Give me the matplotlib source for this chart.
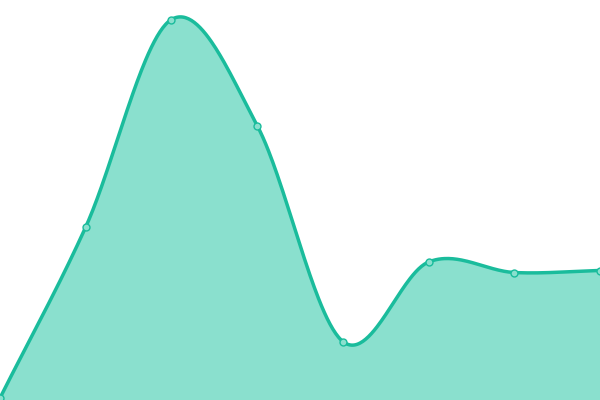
import numpy as np
import matplotlib
matplotlib.use("Agg")
import matplotlib.pyplot as plt

# data (value scale 0..400)
xs = [0, 1, 2, 3, 4, 5, 6, 7]
values = [2, 173, 380.5, 274.5, 58.5, 138, 127.5, 129.5]

line_color = "#1abc9c"
fill_color = "#8ae0ce"


def catmull_rom(x, y, n=60):
    x = np.asarray(x, float)
    y = np.asarray(y, float)
    px = np.concatenate([[2 * x[0] - x[1]], x, [2 * x[-1] - x[-2]]])
    py = np.concatenate([[2 * y[0] - y[1]], y, [2 * y[-1] - y[-2]]])
    ox, oy = [], []
    for i in range(1, len(px) - 2):
        t = np.linspace(0, 1, n, endpoint=(i == len(px) - 3))
        p0, p1 = np.array([px[i], py[i]]), np.array([px[i + 1], py[i + 1]])
        m0 = (np.array([px[i + 1], py[i + 1]]) - np.array([px[i - 1], py[i - 1]])) / 2
        m1 = (np.array([px[i + 2], py[i + 2]]) - np.array([px[i], py[i]])) / 2
        h00 = 2 * t**3 - 3 * t**2 + 1
        h10 = t**3 - 2 * t**2 + t
        h01 = -2 * t**3 + 3 * t**2
        h11 = t**3 - t**2
        ox.append(h00 * p0[0] + h10 * m0[0] + h01 * p1[0] + h11 * m1[0])
        oy.append(h00 * p0[1] + h10 * m0[1] + h01 * p1[1] + h11 * m1[1])
    return np.concatenate(ox), np.concatenate(oy)


fig = plt.figure(figsize=(6, 4), dpi=100)
ax = fig.add_axes([0, 0, 1, 1])
sx, sy = catmull_rom(xs, values)
ax.fill_between(sx, 0, sy, color=fill_color, linewidth=0, zorder=1)
ax.plot(sx, sy, color=line_color, linewidth=2.5, solid_capstyle="round", zorder=2)
ax.plot(xs, values, linestyle="none", marker="o", markersize=5,
        markerfacecolor="#8ae0ce", markeredgecolor=line_color, markeredgewidth=1, zorder=3)
ax.set_xlim(0, 7)
ax.set_ylim(0, 400)
ax.axis("off")
fig.savefig("out.png", dpi=100)
